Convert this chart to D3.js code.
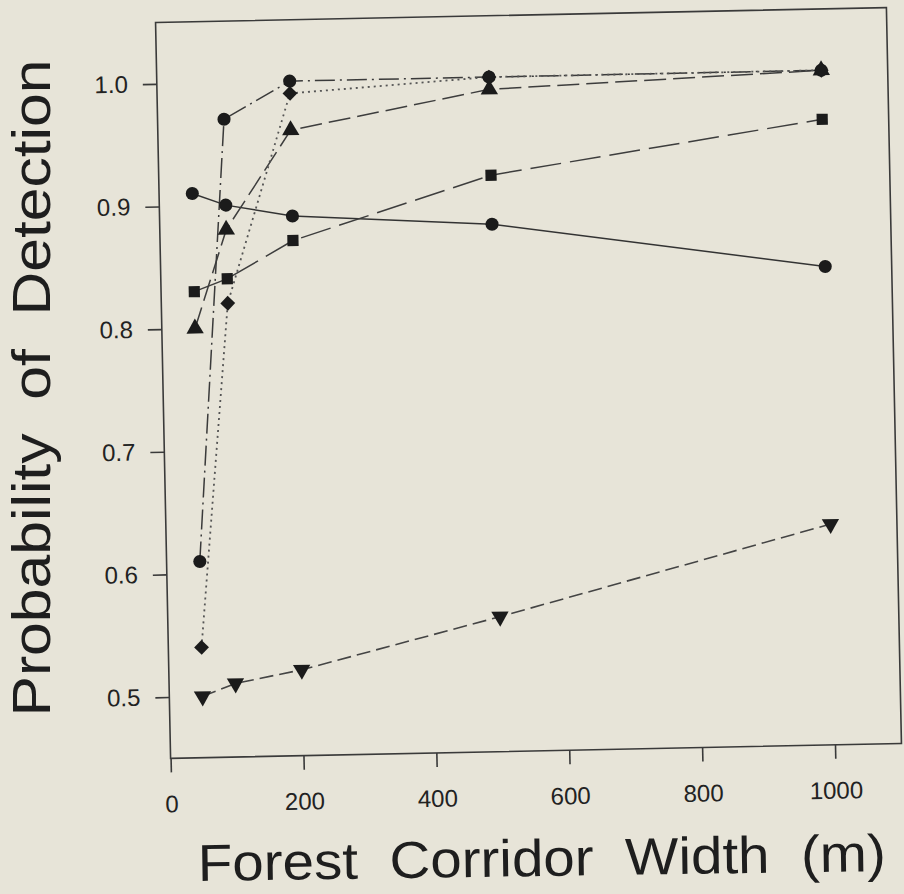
<!DOCTYPE html>
<html>
<head>
<meta charset="utf-8">
<script src="https://cdn.jsdelivr.net/npm/d3@7"></script>
<style>
  html, body { margin: 0; padding: 0; background: #e7e4d8; }
  svg { display: block; }
</style>
</head>
<body>
<svg id="chart" width="904" height="894"></svg>
<script>
// corridor widths (m) and detection probabilities
var widths = [50, 100, 200, 500, 1000];
var circleSolid = [0.91, 0.90, 0.89, 0.88, 0.84];
var squareDash = [0.83, 0.84, 0.87, 0.92, 0.96];
var triangleDash = [0.80, 0.88, 0.96, 0.99, 1.00];
var circleDashDot = [0.61, 0.97, 1.00, 1.00, 1.00];
var triangleDownDash = [0.50, 0.51, 0.52, 0.56, 0.63];
var diamondDot = [0.54, 0.82, 0.99, 1.00, 1.00];

var xTicks = [0, 200, 400, 600, 800, 1000];
var yTicks = [0.5, 0.6, 0.7, 0.8, 0.9, 1.0];
var xTitle = "Forest  Corridor  Width  (m)";
var yTitle = "Probability  of  Detection";

var WIDTH = 904,
    HEIGHT = 894,
    MARGINS = { top: 15, right: 10, bottom: 143, left: 163 };

var svg = d3.select("#chart");

// the scanned figure sits slightly tilted on the page
var plot = svg.append("g")
    .attr("transform", "rotate(-1.17,528,383)");

var x = d3.scaleLinear()
    .domain([0, 1100])
    .range([MARGINS.left, WIDTH - MARGINS.right]);

var y = d3.scaleLinear()
    .domain([0.45, 1.05])
    .range([HEIGHT - MARGINS.bottom, MARGINS.top]);

var series = [
    { values: circleSolid, symbol: d3.symbolCircle, size: 135, rotate: 0, dash: null, color: "#333", width: 1.5 },
    { values: squareDash, symbol: d3.symbolSquare, size: 125, rotate: 0, dash: "31,9", color: "#3d3d3d", width: 1.5 },
    { values: triangleDash, symbol: d3.symbolTriangle, size: 130, rotate: 0, dash: "22,7", color: "#3d3d3d", width: 1.5 },
    { values: circleDashDot, symbol: d3.symbolCircle, size: 135, rotate: 0, dash: "20,5,2,5", color: "#3a3a3a", width: 1.5 },
    { values: triangleDownDash, symbol: d3.symbolTriangle, size: 130, rotate: 180, dash: "14,6", color: "#444", width: 1.6 },
    { values: diamondDot, symbol: d3.symbolSquare, size: 110, rotate: 45, dash: "2,4", color: "#555", width: 1.8 }
];

// frame
plot.append("rect")
    .attr("x", x(0))
    .attr("y", y(1.05))
    .attr("width", x(1100) - x(0))
    .attr("height", y(0.45) - y(1.05))
    .attr("fill", "none")
    .attr("stroke", "#3a3a3a")
    .attr("stroke-width", 1.6);

var xAxis = d3.axisBottom(x)
    .tickValues(xTicks)
    .tickSize(14)
    .tickSizeOuter(0)
    .tickPadding(23)
    .tickFormat(d3.format("d"));

var yAxis = d3.axisLeft(y)
    .tickValues(yTicks)
    .tickSize(14)
    .tickSizeOuter(0)
    .tickPadding(15)
    .tickFormat(d3.format(".1f"));

var gx = plot.append("g")
    .attr("class", "x axis")
    .attr("transform", "translate(0," + y(0.45) + ")")
    .call(xAxis);

var gy = plot.append("g")
    .attr("class", "y axis")
    .attr("transform", "translate(" + x(0) + ",0)")
    .call(yAxis);

[gx, gy].forEach(function (g) {
    g.select(".domain").remove();
    g.selectAll(".tick line").attr("stroke", "#3a3a3a").attr("stroke-width", 1.6);
    g.selectAll(".tick text")
        .attr("fill", "#222")
        .style("font-family", "'Liberation Sans', Arial, sans-serif")
        .style("font-size", "24px");
});

var line = d3.line()
    .x(function (d) { return x(d[0]); })
    .y(function (d) { return y(d[1]); });

series.forEach(function (s) {
    var pts = widths.map(function (w, i) { return [w, s.values[i]]; });
    plot.append("path")
        .datum(pts)
        .attr("d", line)
        .attr("fill", "none")
        .attr("stroke", s.color)
        .attr("stroke-width", s.width)
        .attr("stroke-dasharray", s.dash);
});

series.forEach(function (s) {
    var pts = widths.map(function (w, i) { return [w, s.values[i]]; });
    plot.append("g")
        .selectAll("path")
        .data(pts)
        .enter().append("path")
        .attr("d", d3.symbol().type(s.symbol).size(s.size))
        .attr("transform", function (d) {
            return "translate(" + x(d[0]) + "," + y(d[1]) + ") rotate(" + s.rotate + ")";
        })
        .attr("fill", "#1b1b1b");
});

// axis titles
svg.append("text")
    .attr("transform", "translate(542,876) rotate(-0.83)")
    .attr("text-anchor", "middle")
    .attr("textLength", 688)
    .attr("lengthAdjust", "spacingAndGlyphs")
    .style("white-space", "pre")
    .style("font-family", "'Liberation Sans', Arial, sans-serif")
    .style("font-size", "52px")
    .attr("fill", "#1e1e1e")
    .text(xTitle);

svg.append("text")
    .attr("transform", "translate(50,388) rotate(-90)")
    .attr("text-anchor", "middle")
    .attr("textLength", 657)
    .attr("lengthAdjust", "spacingAndGlyphs")
    .style("white-space", "pre")
    .style("font-family", "'Liberation Sans', Arial, sans-serif")
    .style("font-size", "53px")
    .attr("fill", "#1e1e1e")
    .text(yTitle);
</script>
</body>
</html>
